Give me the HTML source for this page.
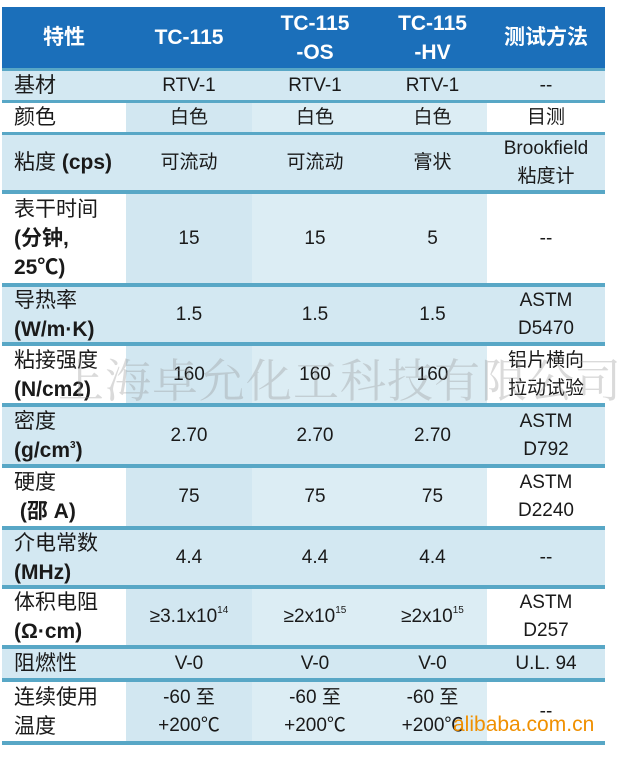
<!DOCTYPE html>
<html><head><meta charset="utf-8"><style>
body{margin:0;width:636px;height:757px;background:#fff;position:relative;overflow:hidden;font-family:"Liberation Sans","Noto Sans CJK SC",sans-serif;color:#1a1a1a}
.c{position:absolute;display:flex;align-items:center;justify-content:center;text-align:center;font-size:19px;line-height:28px;box-sizing:border-box}
.l{justify-content:flex-start;text-align:left;padding-left:12px;font-size:21px;line-height:29px}
.h{background:#1b6fba;color:#fff;font-weight:bold;font-size:21px;line-height:29px}
.s{position:absolute;left:2px;width:603px;background:#58a7c6}
sup{font-size:10px;position:relative;top:-9px;vertical-align:baseline;line-height:0}
.wm{position:absolute;left:58px;top:345px;font-size:46px;color:rgba(150,150,150,0.35);font-family:"Noto Serif CJK SC",serif;letter-spacing:1px;white-space:nowrap}
.ali{position:absolute;left:453px;top:713px;font-size:21px;color:#f09000;font-family:"Liberation Sans",sans-serif}
</style></head><body>
<div class="c h" style="left:2px;top:7px;width:124px;height:61px">特性</div>
<div class="c h" style="left:126px;top:7px;width:126px;height:61px">TC-115</div>
<div class="c h" style="left:252px;top:7px;width:126px;height:61px"><span>TC-115<br>-OS</span></div>
<div class="c h" style="left:378px;top:7px;width:109px;height:61px"><span>TC-115<br>-HV</span></div>
<div class="c h" style="left:487px;top:7px;width:118px;height:61px">测试方法</div>
<div id="rows"></div>
<script>
var rows=[
[71,100,'基材','RTV-1','RTV-1','RTV-1','--',1],
[103,132,'颜色','白色','白色','白色','目测',0],
[135,190,'粘度 <b>(cps)</b>','可流动','可流动','膏状','Brookfield<br>粘度计',1],
[194,283,'表干时间<br><b>(分钟,<br>25℃)</b>','15','15','5','--',0],
[287,342,'导热率<br><b>(W/m·K)</b>','1.5','1.5','1.5','ASTM<br>D5470',1],
[346,403,'粘接强度<br><b>(N/cm2)</b>','160','160','160','铝片横向<br>拉动试验',0],
[407,464,'密度<br><b>(g/cm<sup>3</sup>)</b>','2.70','2.70','2.70','ASTM<br>D792',1],
[468,526,'硬度<br><b>&nbsp;(邵 A)</b>','75','75','75','ASTM<br>D2240',0],
[530,585,'介电常数<br><b>(MHz)</b>','4.4','4.4','4.4','--',1],
[589,645,'体积电阻<br><b>(Ω·cm)</b>','≥3.1x10<sup>14</sup>','≥2x10<sup>15</sup>','≥2x10<sup>15</sup>','ASTM<br>D257',0],
[649,678,'阻燃性','V-0','V-0','V-0','U.L. 94',1],
[682,741,'连续使用<br>温度','-60 至<br>+200℃','-60 至<br>+200℃','-60 至<br>+200℃','--',0]];
var xs=[2,126,252,378,487,605],h='';
var seps=[[68,3],[100,3],[132,3],[190,4],[283,4],[342,4],[403,4],[464,4],[526,4],[585,4],[645,4],[678,4],[741,4]];
rows.forEach(function(r){
 for(var i=0;i<5;i++){
  var bg;
  if(r[7]) bg='#d3e8f2';
  else bg=(i==0||i==4)?'#ffffff':(i==1?'#d2e7f1':'#dcedf4');
  h+='<div class="c'+(i==0?' l':'')+'" style="left:'+xs[i]+'px;top:'+r[0]+'px;width:'+(xs[i+1]-xs[i])+'px;height:'+(r[1]-r[0])+'px;background:'+bg+'"><span>'+r[i+2]+'</span></div>';
 }
});
seps.forEach(function(s){h+='<div class="s" style="top:'+s[0]+'px;height:'+s[1]+'px"></div>';});
document.getElementById('rows').innerHTML=h;
</script>
<div class="wm">上海卓允化工科技有限公司</div>
<div class="ali">alibaba.com.cn</div>
</body></html>
